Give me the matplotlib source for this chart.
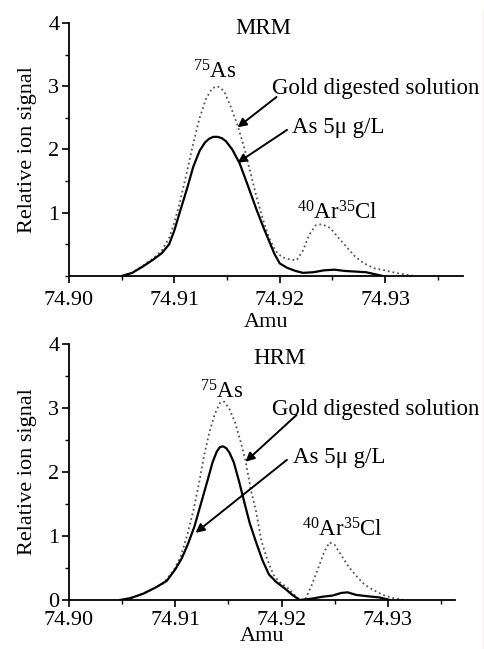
import numpy as np
import matplotlib
matplotlib.use("Agg")
import matplotlib.pyplot as plt
from matplotlib.lines import Line2D
from matplotlib.ticker import MultipleLocator

plt.rcParams['font.family'] = ['Liberation Serif', 'DejaVu Serif']
plt.rcParams['mathtext.fontset'] = 'custom'
plt.rcParams['mathtext.rm'] = 'Liberation Serif'
plt.rcParams['mathtext.it'] = 'Liberation Serif:italic'

# MRM panel, As 5 ug/L (solid)
mrm_as_amu = [74.9050, 74.9060, 74.9070, 74.9080, 74.9088, 74.9095, 74.9100, 74.9105,
              74.9112, 74.9118, 74.9124, 74.9129, 74.9133, 74.9137, 74.9141, 74.9145,
              74.9149, 74.9155, 74.9162, 74.9170, 74.9178, 74.9185, 74.9190, 74.9195,
              74.9200, 74.9207, 74.9215, 74.9222, 74.9232, 74.9242, 74.9252, 74.9262,
              74.9272, 74.9282, 74.9290, 74.9298]
mrm_as_sig = [0.00, 0.05, 0.15, 0.26, 0.36, 0.50, 0.72, 1.00,
              1.38, 1.73, 1.98, 2.11, 2.17, 2.20, 2.20, 2.18,
              2.13, 2.00, 1.78, 1.42, 1.05, 0.75, 0.55, 0.35,
              0.20, 0.13, 0.08, 0.05, 0.06, 0.09, 0.10, 0.08,
              0.07, 0.06, 0.03, 0.00]

# MRM panel, gold digested solution (dotted)
mrm_au_amu = [74.9050, 74.9060, 74.9070, 74.9080, 74.9088, 74.9095, 74.9100, 74.9105,
              74.9112, 74.9118, 74.9124, 74.9130, 74.9136, 74.9141, 74.9147, 74.9153,
              74.9160, 74.9166, 74.9172, 74.9178, 74.9184, 74.9190, 74.9196, 74.9202,
              74.9210, 74.9216, 74.9222, 74.9228, 74.9234, 74.9240, 74.9248, 74.9256,
              74.9264, 74.9272, 74.9280, 74.9290, 74.9300, 74.9310, 74.9320, 74.9328]
mrm_au_sig = [0.00, 0.05, 0.16, 0.28, 0.40, 0.60, 0.85, 1.15,
              1.65, 2.10, 2.50, 2.80, 2.97, 3.00, 2.93, 2.70,
              2.38, 2.05, 1.65, 1.25, 0.90, 0.60, 0.40, 0.30,
              0.26, 0.25, 0.40, 0.65, 0.80, 0.82, 0.76, 0.60,
              0.45, 0.30, 0.20, 0.12, 0.09, 0.05, 0.02, 0.00]

# HRM panel, As 5 ug/L (solid)
hrm_as_amu = [74.9048, 74.9058, 74.9070, 74.9082, 74.9092, 74.9100, 74.9106, 74.9112,
              74.9118, 74.9124, 74.9130, 74.9135, 74.9139, 74.9142, 74.9145, 74.9148,
              74.9151, 74.9155, 74.9160, 74.9165, 74.9170, 74.9176, 74.9182, 74.9188,
              74.9195, 74.9203, 74.9210, 74.9217, 74.9228, 74.9238, 74.9248, 74.9256,
              74.9262, 74.9270, 74.9280, 74.9292, 74.9302]
hrm_as_sig = [0.00, 0.03, 0.10, 0.20, 0.30, 0.48, 0.65, 0.88,
              1.15, 1.50, 1.85, 2.15, 2.32, 2.39, 2.40, 2.37,
              2.30, 2.15, 1.85, 1.52, 1.20, 0.90, 0.62, 0.40,
              0.28, 0.18, 0.08, 0.00, 0.02, 0.05, 0.07, 0.11,
              0.12, 0.08, 0.06, 0.04, 0.00]

# HRM panel, gold digested solution (dotted)
hrm_au_amu = [74.9050, 74.9062, 74.9075, 74.9088, 74.9098, 74.9105, 74.9111, 74.9117,
              74.9122, 74.9127, 74.9132, 74.9137, 74.9142, 74.9146, 74.9151, 74.9156,
              74.9161, 74.9166, 74.9171, 74.9176, 74.9181, 74.9186, 74.9192, 74.9198,
              74.9205, 74.9212, 74.9217, 74.9222, 74.9228, 74.9234, 74.9240, 74.9245,
              74.9250, 74.9256, 74.9263, 74.9270, 74.9278, 74.9286, 74.9295, 74.9305,
              74.9315]
hrm_au_sig = [0.00, 0.05, 0.14, 0.25, 0.45, 0.68, 1.00, 1.40,
              1.80, 2.25, 2.62, 2.90, 3.08, 3.10, 2.98, 2.78,
              2.50, 2.18, 1.72, 1.38, 0.92, 0.66, 0.40, 0.28,
              0.20, 0.08, 0.00, 0.00, 0.22, 0.48, 0.75, 0.90,
              0.86, 0.70, 0.52, 0.38, 0.24, 0.16, 0.08, 0.03,
              0.00]

fs = 16.5      # annotation text
tfs = 16       # tick labels and axis labels
fig = plt.figure(figsize=(4.85, 6.49), dpi=100)

ax1 = fig.add_axes([0.1423, 0.5747, 0.8123, 0.3899])
ax2 = fig.add_axes([0.1423, 0.0755, 0.7957, 0.3945])

panels = [
    (ax1, mrm_as_amu, mrm_as_sig, mrm_au_amu, mrm_au_sig, 74.9374, [1, 2, 3, 4], 6, 2),
    (ax2, hrm_as_amu, hrm_as_sig, hrm_au_amu, hrm_au_sig, 74.9363, [0, 1, 2, 3, 4], 3, -2),
]
for ax, xa, ya, xg, yg, xmax, yt, xpad, lpad in panels:
    ax.plot(xg, yg, linestyle=':', color='#555555', linewidth=1.3)
    ax.plot(xa, ya, '-', color='black', linewidth=1.6)
    ax.set_xlim(74.90, xmax)
    ax.set_ylim(0, 4)
    ax.set_xticks([74.90, 74.91, 74.92, 74.93])
    ax.set_xticklabels(["74.90", "74.91", "74.92", "74.93"], fontsize=tfs)
    ax.set_yticks(yt)
    ax.set_yticklabels([str(v) for v in yt], fontsize=tfs)
    ax.xaxis.set_minor_locator(MultipleLocator(0.005))
    ax.yaxis.set_minor_locator(MultipleLocator(0.5))
    ax.tick_params(which='major', direction='out', length=5, width=1.2, pad=2)
    ax.tick_params(axis='x', which='major', pad=xpad)
    ax.tick_params(which='minor', direction='out', length=3, width=1.0)
    for s in ['top', 'right']:
        ax.spines[s].set_visible(False)
    for s in ['left', 'bottom']:
        ax.spines[s].set_linewidth(1.3)
    ax.set_xlabel("Amu", fontsize=tfs, labelpad=lpad)
    ax.set_ylabel("Relative ion signal", fontsize=tfs, labelpad=8)

arrow = dict(arrowstyle='-|>', color='black', lw=1.4, mutation_scale=13,
             shrinkA=0, shrinkB=0)

# top panel labels
ax1.text(74.9184, 3.92, "MRM", fontsize=fs, ha='center', va='center')
ax1.text(74.9118, 3.22, r"$^{75}$As", fontsize=fs, ha='left', va='center')
ax1.text(74.9193, 2.97, "Gold digested solution", fontsize=fs, ha='left', va='center')
ax1.text(74.9212, 2.35, "As 5\u03bc g/L", fontsize=fs, ha='left', va='center')
ax1.text(74.9216, 0.99, r"$^{40}$Ar$^{35}$Cl", fontsize=fs, ha='left', va='center')
ax1.annotate("", xy=(74.9160, 2.35), xytext=(74.9197, 2.83), arrowprops=arrow)
ax1.annotate("", xy=(74.9160, 1.79), xytext=(74.9207, 2.31), arrowprops=arrow)

# bottom panel labels
ax2.text(74.9198, 3.78, "HRM", fontsize=fs, ha='center', va='center')
ax2.text(74.9123, 3.25, r"$^{75}$As", fontsize=fs, ha='left', va='center')
ax2.text(74.9191, 2.97, "Gold digested solution", fontsize=fs, ha='left', va='center')
ax2.text(74.9211, 2.22, "As 5\u03bc g/L", fontsize=fs, ha='left', va='center')
ax2.text(74.9219, 1.09, r"$^{40}$Ar$^{35}$Cl", fontsize=fs, ha='left', va='center')
ax2.annotate("", xy=(74.9166, 2.16), xytext=(74.9214, 2.89), arrowprops=arrow)
ax2.annotate("", xy=(74.9119, 1.05), xytext=(74.9205, 2.19), arrowprops=arrow)

# page edge line on the right
fig.add_artist(Line2D([484 / 485, 484 / 485], [0, 1 - 10 / 649],
                      transform=fig.transFigure, color='#f4a0a0', linewidth=1.0))

fig.savefig("out.png", dpi=100)
